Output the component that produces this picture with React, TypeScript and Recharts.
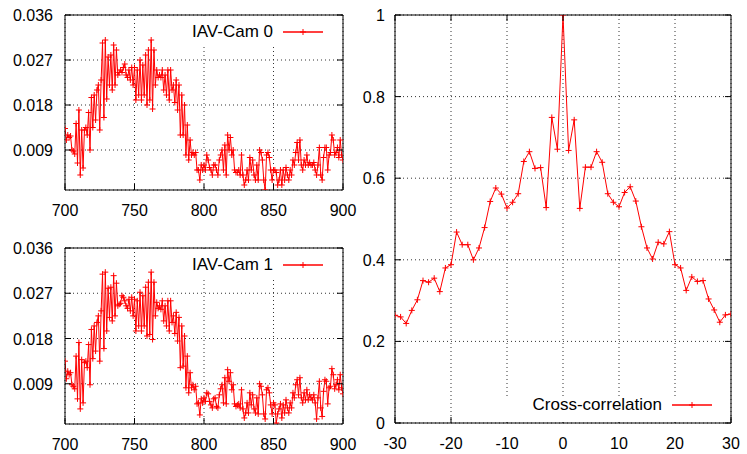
import { CartesianGrid, Line, LineChart, XAxis, YAxis } from "recharts";

const FONT = "'Liberation Sans', Arial, Helvetica, sans-serif";
const RED = "#ff0000";
const TICK_LEN = 6;

// frame numbers start here, one sample per frame
const frameStart = 700;

const cam0 = [
  0.0133, 0.011, 0.012, 0.0115, 0.0118, 0.009, 0.0088, 0.0082, 0.0143, 0.0064,
  0.017, 0.004, 0.013, 0.0054, 0.013, 0.0135, 0.012, 0.0165, 0.009, 0.0195,
  0.0135, 0.02, 0.015, 0.021, 0.022, 0.013, 0.023, 0.0304, 0.0155, 0.031,
  0.0192, 0.0276, 0.022, 0.028, 0.021, 0.03, 0.022, 0.029, 0.024, 0.0245,
  0.025, 0.0245, 0.0255, 0.0262, 0.024, 0.0235, 0.025, 0.023, 0.0255, 0.022,
  0.0255, 0.019, 0.025, 0.02, 0.027, 0.019, 0.026, 0.02, 0.028, 0.018,
  0.029, 0.019, 0.031, 0.0172, 0.029, 0.022, 0.025, 0.0235, 0.024, 0.0235,
  0.025, 0.021, 0.024, 0.02, 0.025, 0.019, 0.025, 0.021, 0.022, 0.0185,
  0.023, 0.017, 0.022, 0.012, 0.02, 0.012, 0.018, 0.008, 0.014, 0.007,
  0.011, 0.008, 0.0085, 0.008, 0.0085, 0.005, 0.005, 0.003, 0.006, 0.005,
  0.006, 0.005, 0.008, 0.007, 0.0055, 0.005, 0.004, 0.006, 0.006, 0.005,
  0.004, 0.007, 0.008, 0.009, 0.005, 0.01, 0.004, 0.012, 0.009, 0.0115,
  0.008, 0.009, 0.005, 0.0045, 0.0045, 0.005, 0.004, 0.008, 0.004, 0.002,
  0.003, 0.005, 0.003, 0.0075, 0.005, 0.007, 0.004, 0.003, 0.006, 0.003,
  0.009, 0.0085, 0.007, 0.003, 0.001, 0.008, 0.0085, 0.0075, 0.005, 0.003,
  0.005, 0.005, 0.0045, 0.002, 0.003, 0.005, 0.002, 0.005, 0.003, 0.0055,
  0.004, 0.003, 0.005, 0.004, 0.007, 0.006, 0.0085, 0.0105, 0.007, 0.011,
  0.006, 0.005, 0.007, 0.006, 0.008, 0.006, 0.0065, 0.006, 0.006, 0.0065,
  0.005, 0.004, 0.006, 0.0095, 0.004, 0.003, 0.0075, 0.0095, 0.0095, 0.005,
  0.008, 0.0085, 0.012, 0.011, 0.008, 0.0085, 0.0095, 0.0075, 0.011, 0.008,
  0.007,
];

const cam1 = [
  0.0135, 0.01, 0.0115, 0.0108, 0.0112, 0.0088, 0.0085, 0.008, 0.0145, 0.006,
  0.0172, 0.004, 0.0138, 0.0052, 0.0132, 0.0135, 0.0122, 0.0168, 0.0088, 0.0198,
  0.014, 0.0205, 0.0155, 0.0212, 0.0225, 0.0135, 0.0235, 0.0308, 0.016, 0.0312,
  0.0195, 0.028, 0.0222, 0.0282, 0.0215, 0.0305, 0.0225, 0.029, 0.0245, 0.0248,
  0.025, 0.0265, 0.0262, 0.0255, 0.0245, 0.024, 0.0258, 0.0235, 0.0262, 0.0225,
  0.0258, 0.0195, 0.0255, 0.0205, 0.0272, 0.0195, 0.0265, 0.0205, 0.0282, 0.0185,
  0.0292, 0.0188, 0.0312, 0.0178, 0.0292, 0.0225, 0.0252, 0.024, 0.0245, 0.0238,
  0.0255, 0.0215, 0.0245, 0.0205, 0.0255, 0.0195, 0.0255, 0.0212, 0.0225, 0.019,
  0.0232, 0.0175, 0.0222, 0.0122, 0.0205, 0.0125, 0.0185, 0.0082, 0.0145, 0.0072,
  0.0112, 0.0082, 0.0088, 0.0078, 0.0085, 0.005, 0.0052, 0.0028, 0.006, 0.0052,
  0.0062, 0.0055, 0.0072, 0.007, 0.0055, 0.0048, 0.0042, 0.006, 0.0062, 0.0045,
  0.0042, 0.0068, 0.008, 0.0088, 0.0052, 0.0102, 0.005, 0.0118, 0.0095, 0.0112,
  0.0078, 0.0088, 0.005, 0.0045, 0.0048, 0.005, 0.0042, 0.0078, 0.004, 0.0022,
  0.0032, 0.0052, 0.0032, 0.0072, 0.0048, 0.0068, 0.004, 0.0032, 0.0062, 0.003,
  0.009, 0.0085, 0.0068, 0.003, 0.002, 0.0078, 0.0082, 0.0072, 0.0048, 0.003,
  0.0052, 0.0048, 0.0012, 0.003, 0.004, 0.005, 0.0022, 0.0048, 0.0032, 0.0058,
  0.0042, 0.0032, 0.0052, 0.0042, 0.0072, 0.0062, 0.0088, 0.0098, 0.0068, 0.0102,
  0.0062, 0.0052, 0.0072, 0.0058, 0.0078, 0.0058, 0.0068, 0.0062, 0.0058, 0.0068,
  0.0052, 0.002, 0.0062, 0.0095, 0.0042, 0.0025, 0.0075, 0.0098, 0.0095, 0.005,
  0.0082, 0.0085, 0.012, 0.0108, 0.008, 0.0088, 0.0098, 0.0078, 0.0108, 0.0082,
  0.007,
];

// lags -30 .. 30
const lagStart = -30;
const crossCorr = [
  0.264, 0.26, 0.244, 0.276, 0.302, 0.349, 0.345, 0.355, 0.322, 0.38,
  0.388, 0.468, 0.437, 0.437, 0.4, 0.429, 0.479, 0.543, 0.576, 0.561,
  0.527, 0.541, 0.562, 0.641, 0.665, 0.624, 0.626, 0.528, 0.749, 0.671,
  1.0,
  0.668, 0.743, 0.526, 0.627, 0.627, 0.665, 0.639, 0.562, 0.541, 0.53,
  0.565, 0.579, 0.544, 0.481, 0.429, 0.402, 0.443, 0.439, 0.469, 0.388,
  0.38, 0.325, 0.358, 0.347, 0.349, 0.304, 0.277, 0.247, 0.265, 0.267,
];

const frameTicks = [700, 750, 800, 850, 900];
const camTicks = [0.009, 0.018, 0.027, 0.036];
const lagTicks = [-30, -20, -10, 0, 10, 20, 30];
const corrTicks = [0, 0.2, 0.4, 0.6, 0.8, 1];

const cam0Data = cam0.map((v, i) => ({ x: frameStart + i, y: v }));
const cam1Data = cam1.map((v, i) => ({ x: frameStart + i, y: v }));
const corrData = crossCorr.map((v, i) => ({ x: lagStart + i, y: v }));

const textStyle = { fontFamily: FONT, fontSize: 16, fill: "#000" };

function PlusDot(props: any) {
  const { cx, cy, index } = props;
  if (cx == null || cy == null) return <g key={`p-${index}`} />;
  return (
    <path
      key={`p-${index}`}
      d={`M${cx - 3},${cy}h6M${cx},${cy - 3}v6`}
      stroke={RED}
      strokeWidth={1}
      fill="none"
    />
  );
}

const bottomTick = (props: any) => {
  const { x, y, payload } = props;
  return (
    <g>
      <line x1={x} y1={y} x2={x} y2={y - TICK_LEN} stroke="#000" />
      <text x={x} y={y + 26} textAnchor="middle" {...textStyle}>
        {payload.value}
      </text>
    </g>
  );
};

const topTick = (props: any) => {
  const { x, y } = props;
  return <line x1={x} y1={y} x2={x} y2={y + TICK_LEN} stroke="#000" />;
};

const leftTick = (fmt: (v: number) => string, gap: number) => (props: any) => {
  const { x, y, payload } = props;
  return (
    <g>
      <line x1={x} y1={y} x2={x + TICK_LEN} y2={y} stroke="#000" />
      <text x={x - gap} y={y + 6} textAnchor="end" {...textStyle}>
        {fmt(payload.value)}
      </text>
    </g>
  );
};

const rightTick = (props: any) => {
  const { x, y } = props;
  return <line x1={x} y1={y} x2={x - TICK_LEN} y2={y} stroke="#000" />;
};

type PanelProps = {
  data: { x: number; y: number }[];
  width: number;
  height: number;
  // plot-area edges inside the chart box
  margin: { top: number; right: number; bottom: number; left: number };
  xDomain: [number, number];
  xTicks: number[];
  yDomain: [number, number];
  yTicks: number[];
  yFmt: (v: number) => string;
  yGap: number;
};

function Panel({ data, width, height, margin, xDomain, xTicks, yDomain, yTicks, yFmt, yGap }: PanelProps) {
  // each axis takes 1px, so shrink the margins by that
  const m = {
    top: margin.top - 1,
    right: margin.right - 1,
    bottom: margin.bottom - 1,
    left: margin.left - 1,
  };
  return (
    <LineChart width={width} height={height} data={data} margin={m}>
      <CartesianGrid stroke="#333" strokeDasharray="1 3" />
      <XAxis
        dataKey="x"
        type="number"
        domain={xDomain}
        ticks={xTicks}
        interval={0}
        height={1}
        tickSize={0}
        tickMargin={0}
        axisLine={{ stroke: "#000" }}
        tick={bottomTick}
        allowDataOverflow
      />
      <XAxis
        xAxisId="top"
        orientation="top"
        type="number"
        domain={xDomain}
        ticks={xTicks}
        interval={0}
        height={1}
        tickSize={0}
        tickMargin={0}
        axisLine={{ stroke: "#000" }}
        tick={topTick}
        allowDataOverflow
      />
      <YAxis
        type="number"
        domain={yDomain}
        ticks={yTicks}
        interval={0}
        width={1}
        tickSize={0}
        tickMargin={0}
        axisLine={{ stroke: "#000" }}
        tick={leftTick(yFmt, yGap)}
        allowDataOverflow
      />
      <YAxis
        yAxisId="right"
        orientation="right"
        type="number"
        domain={yDomain}
        ticks={yTicks}
        interval={0}
        width={1}
        tickSize={0}
        tickMargin={0}
        axisLine={{ stroke: "#000" }}
        tick={rightTick}
        allowDataOverflow
      />
      <Line
        dataKey="y"
        stroke={RED}
        strokeWidth={1}
        dot={PlusDot}
        activeDot={false}
        isAnimationActive={false}
      />
    </LineChart>
  );
}

// key box drawn over the plot, like gnuplot's opaque key
type KeyProps = { label: string; right: number; top: number; pad: string };

function Key({ label, right, top, pad }: KeyProps) {
  return (
    <div
      style={{
        position: "absolute",
        right,
        top,
        display: "flex",
        alignItems: "center",
        background: "#fff",
        padding: pad,
        fontFamily: FONT,
        fontSize: 17,
        lineHeight: "18px",
        color: "#000",
      }}
    >
      <span>{label}</span>
      <svg width={40} height={8} style={{ marginLeft: 10 }}>
        <line x1={0} y1={4} x2={40} y2={4} stroke={RED} strokeWidth={1.3} />
        <path d="M17,4h6M20,1v6" stroke={RED} strokeWidth={1} />
      </svg>
    </div>
  );
}

export default function App() {
  const camFmt = (v: number) => v.toFixed(3);
  const corrFmt = (v: number) => String(v);
  return (
    <div style={{ position: "absolute", left: 0, top: 0, width: 747, height: 454, background: "#fff" }}>
      <div style={{ position: "absolute", left: 0, top: 0 }}>
        <Panel
          data={cam0Data}
          width={360}
          height={225}
          margin={{ top: 15, right: 17, bottom: 35, left: 65 }}
          xDomain={[700, 900]}
          xTicks={frameTicks}
          yDomain={[0.001, 0.036]}
          yTicks={camTicks}
          yFmt={camFmt}
          yGap={12}
        />
      </div>
      <div style={{ position: "absolute", left: 0, top: 225 }}>
        <Panel
          data={cam1Data}
          width={360}
          height={229}
          margin={{ top: 23, right: 17, bottom: 30, left: 65 }}
          xDomain={[700, 900]}
          xTicks={frameTicks}
          yDomain={[0.001, 0.036]}
          yTicks={camTicks}
          yFmt={camFmt}
          yGap={12}
        />
      </div>
      <div style={{ position: "absolute", left: 360, top: 0 }}>
        <Panel
          data={corrData}
          width={387}
          height={454}
          margin={{ top: 15, right: 16, bottom: 31, left: 35 }}
          xDomain={[-30, 30]}
          xTicks={lagTicks}
          yDomain={[0, 1]}
          yTicks={corrTicks}
          yFmt={corrFmt}
          yGap={10}
        />
      </div>
      <Key label="IAV-Cam 0" right={747 - 329} top={17} pad="6px 6px 6px 10px" />
      <Key label="IAV-Cam 1" right={747 - 329} top={250} pad="6px 6px 6px 10px" />
      <Key label="Cross-correlation" right={747 - 718} top={396} pad="0px 6px 8px 28px" />
    </div>
  );
}
